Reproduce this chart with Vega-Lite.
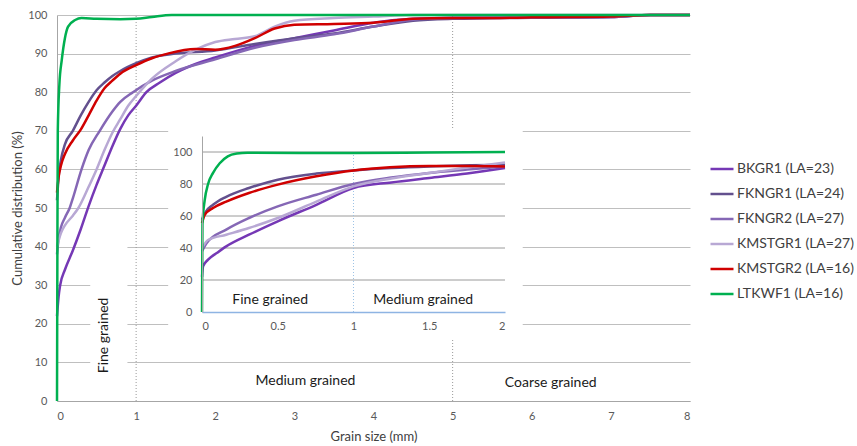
{
  "$schema": "https://vega.github.io/schema/vega-lite/v6.json",
  "width": 633,
  "height": 386,
  "autosize": "none",
  "padding": {"left": 57, "top": 15, "right": 167, "bottom": 45},
  "background": "white",
  "config": {
    "view": {"stroke": null},
    "font": "Lato",
    "axis": {"labelFont": "Lato", "titleFont": "Lato", "labelColor": "#595959", "titleColor": "#404040", "titleFontWeight": "normal"},
    "legend": {"labelFont": "Lato"}
  },
  "datasets": {
    "main": [
      {"series": "BKGR1 (LA=23)", "x": 0, "y": 22}, {"series": "BKGR1 (LA=23)", "x": 0.02, "y": 27}, {"series": "BKGR1 (LA=23)", "x": 0.04, "y": 30}, {"series": "BKGR1 (LA=23)", "x": 0.1, "y": 34}, {"series": "BKGR1 (LA=23)", "x": 0.2, "y": 39}, {"series": "BKGR1 (LA=23)", "x": 0.3, "y": 44.5}, {"series": "BKGR1 (LA=23)", "x": 0.4, "y": 50.5}, {"series": "BKGR1 (LA=23)", "x": 0.5, "y": 56}, {"series": "BKGR1 (LA=23)", "x": 0.6, "y": 61}, {"series": "BKGR1 (LA=23)", "x": 0.7, "y": 66}, {"series": "BKGR1 (LA=23)", "x": 0.8, "y": 70.5}, {"series": "BKGR1 (LA=23)", "x": 0.9, "y": 74}, {"series": "BKGR1 (LA=23)", "x": 1.0, "y": 76.5}, {"series": "BKGR1 (LA=23)", "x": 1.13, "y": 80}, {"series": "BKGR1 (LA=23)", "x": 1.3, "y": 82.5}, {"series": "BKGR1 (LA=23)", "x": 1.5, "y": 85}, {"series": "BKGR1 (LA=23)", "x": 1.75, "y": 87.3}, {"series": "BKGR1 (LA=23)", "x": 2, "y": 89}, {"series": "BKGR1 (LA=23)", "x": 2.5, "y": 92}, {"series": "BKGR1 (LA=23)", "x": 3, "y": 94}, {"series": "BKGR1 (LA=23)", "x": 3.5, "y": 96}, {"series": "BKGR1 (LA=23)", "x": 4, "y": 98}, {"series": "BKGR1 (LA=23)", "x": 4.5, "y": 99}, {"series": "BKGR1 (LA=23)", "x": 5, "y": 99.3}, {"series": "BKGR1 (LA=23)", "x": 6, "y": 99.4}, {"series": "BKGR1 (LA=23)", "x": 7, "y": 99.5}, {"series": "BKGR1 (LA=23)", "x": 7.5, "y": 100}, {"series": "BKGR1 (LA=23)", "x": 8, "y": 100},
      {"series": "FKNGR1 (LA=24)", "x": 0, "y": 52}, {"series": "FKNGR1 (LA=24)", "x": 0.02, "y": 58}, {"series": "FKNGR1 (LA=24)", "x": 0.05, "y": 62.5}, {"series": "FKNGR1 (LA=24)", "x": 0.1, "y": 66.5}, {"series": "FKNGR1 (LA=24)", "x": 0.2, "y": 70}, {"series": "FKNGR1 (LA=24)", "x": 0.3, "y": 74}, {"series": "FKNGR1 (LA=24)", "x": 0.4, "y": 77.5}, {"series": "FKNGR1 (LA=24)", "x": 0.5, "y": 80.5}, {"series": "FKNGR1 (LA=24)", "x": 0.6, "y": 82.5}, {"series": "FKNGR1 (LA=24)", "x": 0.7, "y": 84.2}, {"series": "FKNGR1 (LA=24)", "x": 0.8, "y": 85.5}, {"series": "FKNGR1 (LA=24)", "x": 1.0, "y": 87.5}, {"series": "FKNGR1 (LA=24)", "x": 1.2, "y": 89}, {"series": "FKNGR1 (LA=24)", "x": 1.5, "y": 90}, {"series": "FKNGR1 (LA=24)", "x": 2.0, "y": 90.8}, {"series": "FKNGR1 (LA=24)", "x": 2.5, "y": 92.5}, {"series": "FKNGR1 (LA=24)", "x": 3.0, "y": 94}, {"series": "FKNGR1 (LA=24)", "x": 3.5, "y": 95.2}, {"series": "FKNGR1 (LA=24)", "x": 4.0, "y": 97}, {"series": "FKNGR1 (LA=24)", "x": 4.5, "y": 98.5}, {"series": "FKNGR1 (LA=24)", "x": 5, "y": 99}, {"series": "FKNGR1 (LA=24)", "x": 6, "y": 99.3}, {"series": "FKNGR1 (LA=24)", "x": 7, "y": 99.5}, {"series": "FKNGR1 (LA=24)", "x": 7.5, "y": 100}, {"series": "FKNGR1 (LA=24)", "x": 8, "y": 100},
      {"series": "FKNGR2 (LA=27)", "x": 0, "y": 38}, {"series": "FKNGR2 (LA=27)", "x": 0.02, "y": 42}, {"series": "FKNGR2 (LA=27)", "x": 0.05, "y": 45}, {"series": "FKNGR2 (LA=27)", "x": 0.1, "y": 47.5}, {"series": "FKNGR2 (LA=27)", "x": 0.16, "y": 50}, {"series": "FKNGR2 (LA=27)", "x": 0.2, "y": 52.5}, {"series": "FKNGR2 (LA=27)", "x": 0.31, "y": 60}, {"series": "FKNGR2 (LA=27)", "x": 0.4, "y": 65}, {"series": "FKNGR2 (LA=27)", "x": 0.54, "y": 70}, {"series": "FKNGR2 (LA=27)", "x": 0.7, "y": 75}, {"series": "FKNGR2 (LA=27)", "x": 0.8, "y": 77.5}, {"series": "FKNGR2 (LA=27)", "x": 0.96, "y": 80}, {"series": "FKNGR2 (LA=27)", "x": 1.2, "y": 83}, {"series": "FKNGR2 (LA=27)", "x": 1.5, "y": 85.5}, {"series": "FKNGR2 (LA=27)", "x": 2.0, "y": 88.5}, {"series": "FKNGR2 (LA=27)", "x": 2.5, "y": 91.5}, {"series": "FKNGR2 (LA=27)", "x": 3.0, "y": 93.5}, {"series": "FKNGR2 (LA=27)", "x": 3.5, "y": 95}, {"series": "FKNGR2 (LA=27)", "x": 4.0, "y": 97}, {"series": "FKNGR2 (LA=27)", "x": 4.5, "y": 98.8}, {"series": "FKNGR2 (LA=27)", "x": 5, "y": 99.2}, {"series": "FKNGR2 (LA=27)", "x": 6, "y": 99.4}, {"series": "FKNGR2 (LA=27)", "x": 7, "y": 99.5}, {"series": "FKNGR2 (LA=27)", "x": 7.5, "y": 100}, {"series": "FKNGR2 (LA=27)", "x": 8, "y": 100},
      {"series": "KMSTGR1 (LA=27)", "x": 0, "y": 40}, {"series": "KMSTGR1 (LA=27)", "x": 0.05, "y": 43.5}, {"series": "KMSTGR1 (LA=27)", "x": 0.1, "y": 45.5}, {"series": "KMSTGR1 (LA=27)", "x": 0.2, "y": 48}, {"series": "KMSTGR1 (LA=27)", "x": 0.27, "y": 50}, {"series": "KMSTGR1 (LA=27)", "x": 0.4, "y": 55.5}, {"series": "KMSTGR1 (LA=27)", "x": 0.5, "y": 60}, {"series": "KMSTGR1 (LA=27)", "x": 0.6, "y": 65}, {"series": "KMSTGR1 (LA=27)", "x": 0.7, "y": 69.5}, {"series": "KMSTGR1 (LA=27)", "x": 0.8, "y": 73}, {"series": "KMSTGR1 (LA=27)", "x": 0.9, "y": 76.5}, {"series": "KMSTGR1 (LA=27)", "x": 1.0, "y": 79}, {"series": "KMSTGR1 (LA=27)", "x": 1.2, "y": 83.5}, {"series": "KMSTGR1 (LA=27)", "x": 1.5, "y": 88}, {"series": "KMSTGR1 (LA=27)", "x": 1.75, "y": 91}, {"series": "KMSTGR1 (LA=27)", "x": 2.0, "y": 93}, {"series": "KMSTGR1 (LA=27)", "x": 2.25, "y": 93.8}, {"series": "KMSTGR1 (LA=27)", "x": 2.5, "y": 94.5}, {"series": "KMSTGR1 (LA=27)", "x": 2.75, "y": 97}, {"series": "KMSTGR1 (LA=27)", "x": 3.0, "y": 98.5}, {"series": "KMSTGR1 (LA=27)", "x": 3.5, "y": 99.2}, {"series": "KMSTGR1 (LA=27)", "x": 4, "y": 99.6}, {"series": "KMSTGR1 (LA=27)", "x": 4.5, "y": 100}, {"series": "KMSTGR1 (LA=27)", "x": 8, "y": 100},
      {"series": "KMSTGR2 (LA=16)", "x": 0, "y": 54}, {"series": "KMSTGR2 (LA=16)", "x": 0.02, "y": 58}, {"series": "KMSTGR2 (LA=16)", "x": 0.05, "y": 61}, {"series": "KMSTGR2 (LA=16)", "x": 0.1, "y": 64}, {"series": "KMSTGR2 (LA=16)", "x": 0.2, "y": 67.5}, {"series": "KMSTGR2 (LA=16)", "x": 0.3, "y": 70.3}, {"series": "KMSTGR2 (LA=16)", "x": 0.4, "y": 74}, {"series": "KMSTGR2 (LA=16)", "x": 0.5, "y": 77.8}, {"series": "KMSTGR2 (LA=16)", "x": 0.6, "y": 81}, {"series": "KMSTGR2 (LA=16)", "x": 0.7, "y": 83}, {"series": "KMSTGR2 (LA=16)", "x": 0.8, "y": 84.8}, {"series": "KMSTGR2 (LA=16)", "x": 1.0, "y": 87}, {"series": "KMSTGR2 (LA=16)", "x": 1.2, "y": 88.8}, {"series": "KMSTGR2 (LA=16)", "x": 1.4, "y": 90}, {"series": "KMSTGR2 (LA=16)", "x": 1.75, "y": 91.2}, {"series": "KMSTGR2 (LA=16)", "x": 2.0, "y": 91}, {"series": "KMSTGR2 (LA=16)", "x": 2.25, "y": 92}, {"series": "KMSTGR2 (LA=16)", "x": 2.5, "y": 94}, {"series": "KMSTGR2 (LA=16)", "x": 2.75, "y": 96.5}, {"series": "KMSTGR2 (LA=16)", "x": 3.0, "y": 97.5}, {"series": "KMSTGR2 (LA=16)", "x": 3.5, "y": 97.7}, {"series": "KMSTGR2 (LA=16)", "x": 4.0, "y": 98}, {"series": "KMSTGR2 (LA=16)", "x": 4.5, "y": 99}, {"series": "KMSTGR2 (LA=16)", "x": 5, "y": 99.2}, {"series": "KMSTGR2 (LA=16)", "x": 5.5, "y": 99.2}, {"series": "KMSTGR2 (LA=16)", "x": 6, "y": 99.4}, {"series": "KMSTGR2 (LA=16)", "x": 7, "y": 99.6}, {"series": "KMSTGR2 (LA=16)", "x": 7.5, "y": 100}, {"series": "KMSTGR2 (LA=16)", "x": 8, "y": 100},
      {"series": "LTKWF1 (LA=16)", "x": 0, "y": 0}, {"series": "LTKWF1 (LA=16)", "x": 0.005, "y": 40}, {"series": "LTKWF1 (LA=16)", "x": 0.01, "y": 70}, {"series": "LTKWF1 (LA=16)", "x": 0.03, "y": 82}, {"series": "LTKWF1 (LA=16)", "x": 0.06, "y": 88.3}, {"series": "LTKWF1 (LA=16)", "x": 0.1, "y": 94}, {"series": "LTKWF1 (LA=16)", "x": 0.14, "y": 97}, {"series": "LTKWF1 (LA=16)", "x": 0.23, "y": 98.7}, {"series": "LTKWF1 (LA=16)", "x": 0.31, "y": 99.2}, {"series": "LTKWF1 (LA=16)", "x": 0.5, "y": 99}, {"series": "LTKWF1 (LA=16)", "x": 0.8, "y": 98.9}, {"series": "LTKWF1 (LA=16)", "x": 1.0, "y": 99}, {"series": "LTKWF1 (LA=16)", "x": 1.2, "y": 99.5}, {"series": "LTKWF1 (LA=16)", "x": 1.45, "y": 100}, {"series": "LTKWF1 (LA=16)", "x": 8, "y": 100}
    ],
    "inset": [
      {"series": "BKGR1 (LA=23)", "x": 0, "y": 22}, {"series": "BKGR1 (LA=23)", "x": 0.007, "y": 28.5}, {"series": "BKGR1 (LA=23)", "x": 0.04, "y": 32.7}, {"series": "BKGR1 (LA=23)", "x": 0.1, "y": 37}, {"series": "BKGR1 (LA=23)", "x": 0.16, "y": 41}, {"series": "BKGR1 (LA=23)", "x": 0.31, "y": 48.3}, {"series": "BKGR1 (LA=23)", "x": 0.5, "y": 56.7}, {"series": "BKGR1 (LA=23)", "x": 0.755, "y": 67}, {"series": "BKGR1 (LA=23)", "x": 1, "y": 77.5}, {"series": "BKGR1 (LA=23)", "x": 1.25, "y": 81}, {"series": "BKGR1 (LA=23)", "x": 1.5, "y": 83.75}, {"series": "BKGR1 (LA=23)", "x": 1.75, "y": 86.5}, {"series": "BKGR1 (LA=23)", "x": 2, "y": 90},
      {"series": "FKNGR1 (LA=24)", "x": 0, "y": 57.7}, {"series": "FKNGR1 (LA=24)", "x": 0.02, "y": 62}, {"series": "FKNGR1 (LA=24)", "x": 0.073, "y": 67}, {"series": "FKNGR1 (LA=24)", "x": 0.16, "y": 72}, {"series": "FKNGR1 (LA=24)", "x": 0.31, "y": 77.5}, {"series": "FKNGR1 (LA=24)", "x": 0.5, "y": 82.7}, {"series": "FKNGR1 (LA=24)", "x": 0.755, "y": 86.5}, {"series": "FKNGR1 (LA=24)", "x": 1, "y": 88.5}, {"series": "FKNGR1 (LA=24)", "x": 1.25, "y": 90}, {"series": "FKNGR1 (LA=24)", "x": 1.5, "y": 91}, {"series": "FKNGR1 (LA=24)", "x": 2, "y": 92},
      {"series": "FKNGR2 (LA=27)", "x": 0, "y": 38}, {"series": "FKNGR2 (LA=27)", "x": 0.03, "y": 43}, {"series": "FKNGR2 (LA=27)", "x": 0.16, "y": 51.5}, {"series": "FKNGR2 (LA=27)", "x": 0.31, "y": 58.75}, {"series": "FKNGR2 (LA=27)", "x": 0.5, "y": 66}, {"series": "FKNGR2 (LA=27)", "x": 0.755, "y": 73.3}, {"series": "FKNGR2 (LA=27)", "x": 1, "y": 80}, {"series": "FKNGR2 (LA=27)", "x": 1.25, "y": 84}, {"series": "FKNGR2 (LA=27)", "x": 1.5, "y": 86.9}, {"series": "FKNGR2 (LA=27)", "x": 1.75, "y": 89}, {"series": "FKNGR2 (LA=27)", "x": 2, "y": 91},
      {"series": "KMSTGR1 (LA=27)", "x": 0, "y": 40}, {"series": "KMSTGR1 (LA=27)", "x": 0.04, "y": 45}, {"series": "KMSTGR1 (LA=27)", "x": 0.16, "y": 48.3}, {"series": "KMSTGR1 (LA=27)", "x": 0.31, "y": 52.5}, {"series": "KMSTGR1 (LA=27)", "x": 0.5, "y": 58.75}, {"series": "KMSTGR1 (LA=27)", "x": 0.755, "y": 69}, {"series": "KMSTGR1 (LA=27)", "x": 1, "y": 78.5}, {"series": "KMSTGR1 (LA=27)", "x": 1.25, "y": 83.5}, {"series": "KMSTGR1 (LA=27)", "x": 1.5, "y": 86.9}, {"series": "KMSTGR1 (LA=27)", "x": 1.75, "y": 90.3}, {"series": "KMSTGR1 (LA=27)", "x": 2, "y": 93.5},
      {"series": "KMSTGR2 (LA=16)", "x": 0, "y": 55.6}, {"series": "KMSTGR2 (LA=16)", "x": 0.018, "y": 60.8}, {"series": "KMSTGR2 (LA=16)", "x": 0.073, "y": 65}, {"series": "KMSTGR2 (LA=16)", "x": 0.16, "y": 69}, {"series": "KMSTGR2 (LA=16)", "x": 0.31, "y": 74.4}, {"series": "KMSTGR2 (LA=16)", "x": 0.5, "y": 79.6}, {"series": "KMSTGR2 (LA=16)", "x": 0.755, "y": 84.8}, {"series": "KMSTGR2 (LA=16)", "x": 1, "y": 88.5}, {"series": "KMSTGR2 (LA=16)", "x": 1.24, "y": 90.5}, {"series": "KMSTGR2 (LA=16)", "x": 1.5, "y": 91.3}, {"series": "KMSTGR2 (LA=16)", "x": 1.75, "y": 91.3}, {"series": "KMSTGR2 (LA=16)", "x": 2, "y": 91},
      {"series": "LTKWF1 (LA=16)", "x": 0, "y": 0}, {"series": "LTKWF1 (LA=16)", "x": 0.003, "y": 55}, {"series": "LTKWF1 (LA=16)", "x": 0.018, "y": 70}, {"series": "LTKWF1 (LA=16)", "x": 0.04, "y": 80}, {"series": "LTKWF1 (LA=16)", "x": 0.073, "y": 87}, {"series": "LTKWF1 (LA=16)", "x": 0.117, "y": 93}, {"series": "LTKWF1 (LA=16)", "x": 0.17, "y": 97.3}, {"series": "LTKWF1 (LA=16)", "x": 0.23, "y": 99}, {"series": "LTKWF1 (LA=16)", "x": 0.3, "y": 99.5}, {"series": "LTKWF1 (LA=16)", "x": 1.0, "y": 99.4}, {"series": "LTKWF1 (LA=16)", "x": 1.5, "y": 99.7}, {"series": "LTKWF1 (LA=16)", "x": 2, "y": 100}
    ]
  },
  "layer": [
    {
      "layer": [
        {
          "data": {"values": [{}]},
          "mark": {"type": "rule", "color": "#9A9A9A", "strokeDash": [1, 2], "strokeWidth": 1},
          "encoding": {"x": {"datum": 1, "type": "quantitative", "scale": {"domain": [0, 8], "nice": false}, "axis": null}, "y": {"datum": 0, "type": "quantitative", "scale": {"domain": [0, 100], "nice": false}, "axis": null}, "y2": {"datum": 100}}
        },
        {
          "data": {"values": [{}]},
          "mark": {"type": "rule", "color": "#9A9A9A", "strokeDash": [1, 2], "strokeWidth": 1},
          "encoding": {"x": {"datum": 5, "type": "quantitative", "axis": null}, "y": {"datum": 0, "type": "quantitative", "axis": null}, "y2": {"datum": 100}}
        },
        {
          "data": {"values": [{}]},
          "mark": {"type": "rect", "color": "white"},
          "encoding": {"x": {"datum": 1.405, "type": "quantitative", "axis": null}, "x2": {"datum": 5.886}, "y": {"datum": 16.3, "type": "quantitative", "axis": null}, "y2": {"datum": 70.7}}
        },
        {
          "data": {"values": [{}]},
          "mark": {"type": "rect", "color": "white"},
          "encoding": {"x": {"datum": 0.42, "type": "quantitative", "axis": null}, "x2": {"datum": 0.89}, "y": {"datum": 5, "type": "quantitative", "axis": null}, "y2": {"datum": 45}}
        },
        {
          "data": {"values": [{}]},
          "mark": {"type": "text", "text": "Fine grained", "angle": 270, "fontSize": 14, "color": "#1a1a1a", "align": "center", "baseline": "middle"},
          "encoding": {"x": {"datum": 0.6, "type": "quantitative", "axis": null}, "y": {"datum": 17, "type": "quantitative", "axis": null}}
        },
        {
          "data": {"values": [{}]},
          "mark": {"type": "text", "text": "Medium grained", "fontSize": 14, "color": "#1a1a1a", "align": "center", "baseline": "middle"},
          "encoding": {"x": {"datum": 3.14, "type": "quantitative", "axis": null}, "y": {"datum": 5.2, "type": "quantitative", "axis": null}}
        },
        {
          "data": {"values": [{}]},
          "mark": {"type": "text", "text": "Coarse grained", "fontSize": 14, "color": "#1a1a1a", "align": "center", "baseline": "middle"},
          "encoding": {"x": {"datum": 6.24, "type": "quantitative", "axis": null}, "y": {"datum": 4.7, "type": "quantitative", "axis": null}}
        }
      ]
    },
    {
      "data": {"name": "main"},
      "mark": {"type": "line", "interpolate": "monotone", "strokeWidth": 2.5},
      "encoding": {
        "x": {"field": "x", "type": "quantitative", "scale": {"domain": [0, 8], "nice": false},
          "axis": {"title": "Grain size (mm)", "values": [0, 1, 2, 3, 4, 5, 6, 7, 8], "grid": false, "ticks": false, "domainColor": "#A6A6A6", "labelFontSize": 11, "labelPadding": 9, "titleFontSize": 13, "titlePadding": 9}},
        "y": {"field": "y", "type": "quantitative", "scale": {"domain": [0, 100], "nice": false},
          "axis": {"title": "Cumulative distribution (%)", "values": [0, 10, 20, 30, 40, 50, 60, 70, 80, 90, 100], "grid": true, "gridColor": "#BFBFBF", "ticks": false, "domainColor": "#A6A6A6", "labelFontSize": 11, "labelPadding": 10, "titleFontSize": 13, "titlePadding": 3}},
        "color": {"field": "series", "type": "nominal",
          "scale": {"domain": ["BKGR1 (LA=23)", "FKNGR1 (LA=24)", "FKNGR2 (LA=27)", "KMSTGR1 (LA=27)", "KMSTGR2 (LA=16)", "LTKWF1 (LA=16)"],
            "range": ["#7538B5", "#63508E", "#8567B5", "#B8A8D4", "#D00000", "#00B050"]},
          "legend": {"orient": "none", "legendX": 652, "legendY": 141, "title": null, "padding": 0, "symbolType": "stroke", "symbolSize": 529, "symbolStrokeWidth": 2.5, "labelFontSize": 14, "labelColor": "#404040", "labelOffset": 2, "rowPadding": 5}}
      }
    },
    {
      "layer": [
        {
          "data": {"values": [{"g": 20}, {"g": 40}, {"g": 60}, {"g": 80}, {"g": 100}]},
          "mark": {"type": "rule", "color": "#9A9A9A", "strokeWidth": 1},
          "encoding": {"x": {"datum": 0, "type": "quantitative"}, "x2": {"datum": 2}, "y": {"field": "g", "type": "quantitative"}}
        },
        {
          "data": {"values": [{}]},
          "mark": {"type": "rule", "color": "#9DC3E6", "strokeDash": [1, 2], "strokeWidth": 1},
          "encoding": {"x": {"datum": 1, "type": "quantitative"}, "y": {"datum": 0, "type": "quantitative"}, "y2": {"datum": 100}}
        },
        {
          "data": {"name": "inset"},
          "mark": {"type": "line", "interpolate": "monotone", "strokeWidth": 2.5},
          "encoding": {
            "x": {"field": "x", "type": "quantitative", "scale": {"domain": [0, 2], "nice": false, "range": [145, 448]},
              "axis": {"orient": "bottom", "offset": -89, "title": null, "values": [0, 0.5, 1, 1.5, 2], "format": "~g", "grid": false, "ticks": false, "domainColor": "#8EB4E3", "domainWidth": 1.5, "labelFontSize": 11, "labelPadding": 8, "zindex": 1}},
            "y": {"field": "y", "type": "quantitative", "scale": {"domain": [0, 110], "nice": false, "range": [297, 121]},
              "axis": {"orient": "left", "offset": -145, "title": null, "values": [0, 20, 40, 60, 80, 100], "grid": false, "ticks": false, "domainColor": "#A6A6A6", "labelFontSize": 11, "labelPadding": 10, "zindex": 1}},
            "color": {"field": "series", "type": "nominal",
              "legend": {"orient": "none", "legendX": 652, "legendY": 141, "title": null, "padding": 0, "symbolType": "stroke", "symbolSize": 529, "symbolStrokeWidth": 2.5, "labelFontSize": 14, "labelColor": "#404040", "labelOffset": 2, "rowPadding": 5}}
          }
        },
        {
          "data": {"values": [{}]},
          "mark": {"type": "text", "text": "Fine grained", "fontSize": 14, "color": "#1a1a1a", "align": "center", "baseline": "middle"},
          "encoding": {"x": {"datum": 0.45, "type": "quantitative"}, "y": {"datum": 7.7, "type": "quantitative"}}
        },
        {
          "data": {"values": [{}]},
          "mark": {"type": "text", "text": "Medium grained", "fontSize": 14, "color": "#1a1a1a", "align": "center", "baseline": "middle"},
          "encoding": {"x": {"datum": 1.46, "type": "quantitative"}, "y": {"datum": 7.7, "type": "quantitative"}}
        }
      ]
    }
  ],
  "resolve": {"scale": {"x": "independent", "y": "independent"}, "axis": {"x": "independent", "y": "independent"}}
}
